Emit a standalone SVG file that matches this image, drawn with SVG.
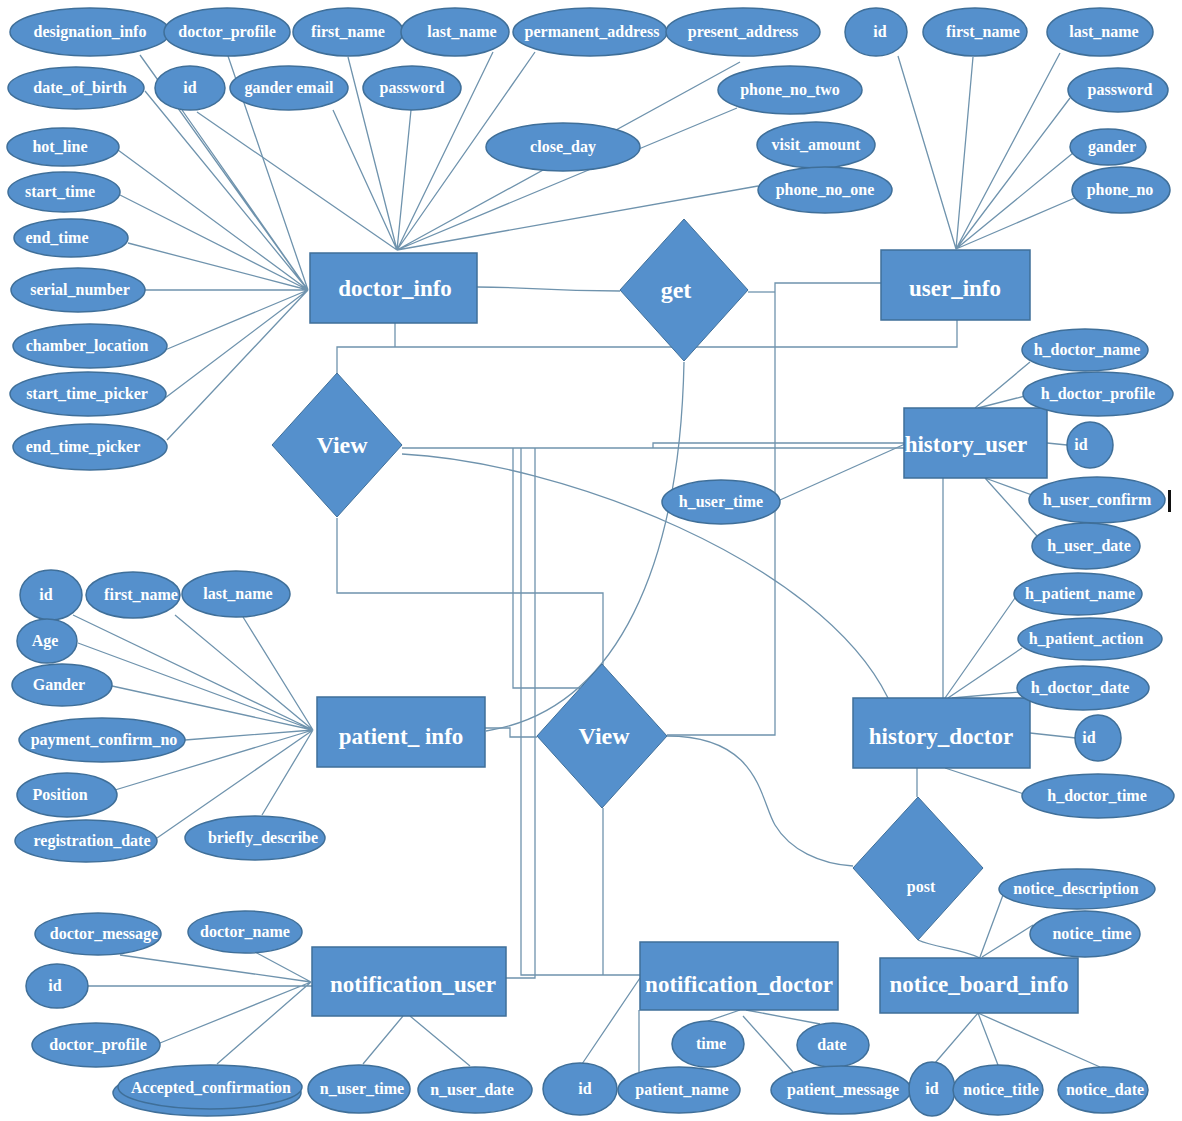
<svg xmlns="http://www.w3.org/2000/svg" width="1182" height="1121" viewBox="0 0 1182 1121">
<style>
  .ln { fill: none; stroke: #6f93ad; stroke-width: 1.3; }
  .ent { fill: #5590cc; stroke: #3f6f99; stroke-width: 1.5; }
  .at { fill: #5590cc; stroke: #3f6f99; stroke-width: 1.5; }
  .rel { fill: #5590cc; stroke: #3f6f99; stroke-width: 1; }
  text { font-family: "Liberation Serif", "Times New Roman", serif; fill: #ffffff; text-anchor: middle; font-weight: bold; }
  .ta { font-size: 16px; }
  .te { font-size: 23px; }
  .tr { font-size: 24px; }
</style>
<rect width="1182" height="1121" fill="#ffffff"/>

<!-- connectors -->
<g id="connectors">
  <!-- doctor_info attributes (left side hub and top hub) -->
  <path class="ln" d="M140,55 L308,290 M145,91 L308,290 M182,110 L308,290 M228,56 L308,290 M118,150 L308,290 M120,195 L308,290 M128,243 L308,290 M145,290 L308,290 M165,350 L308,290 M165,398 L308,290 M167,440 L308,290"/>
  <path class="ln" d="M197,112 L397,250 M333,110 L397,250 M348,57 L397,250 M411,110 L397,250 M493,52 L397,250 M535,52 L397,250 M740,62 L397,250 M737,108 L397,250 M758,186 L397,250"/>
  <!-- user_info attributes -->
  <path class="ln" d="M898,56 L956,249 M973,57 L956,249 M1060,53 L956,249 M1070,98 L956,249 M1073,153 L956,249 M1077,197 L956,249"/>
  <!-- relationships -->
  <path class="ln" d="M477,287 C530,287 540,291 620,291"/>
  <path class="ln" d="M748,292 H775"/>
  <path class="ln" d="M667,735 H775 V283 H881"/>
  <path class="ln" d="M395,323 V347"/>
  <path class="ln" d="M957,320 V347 H337 V375"/>
  <path class="ln" d="M337,518 V593 H603 V665"/>
  <path class="ln" d="M402,448 H905"/>
  <path class="ln" d="M653,448 V443 H905"/>
  <path class="ln" d="M513,448 V688 H580"/>
  <path class="ln" d="M521,448 V975 H640"/>
  <path class="ln" d="M535,448 V978 H506"/>
  <path class="ln" d="M603,808 V975"/>
  <path class="ln" d="M402,454 C560,462 820,560 888,698"/>
  <path class="ln" d="M684,362 C680,560 620,710 486,731"/>
  <path class="ln" d="M485,728 H510 V737 H537"/>
  <path class="ln" d="M667,736 C760,736 760,800 775,825 C790,850 820,864 853,866"/>
  <path class="ln" d="M943,478 V698"/>
  <path class="ln" d="M780,500 L905,444"/>
  <path class="ln" d="M917,768 V797"/>
  <path class="ln" d="M918,940 C935,948 960,948 980,958"/>
  <!-- history_user attributes -->
  <path class="ln" d="M1030,362 L975,408 M1025,396 L978,408 M1047,443 L1067,445 M1032,495 L985,478 M1037,536 L985,478"/>
  <!-- history_doctor attributes -->
  <path class="ln" d="M1015,598 L945,698 M1022,648 L948,698 M1020,692 L952,698 M1030,733 L1076,738 M1024,794 L945,768"/>
  <!-- patient_info attributes -->
  <path class="ln" d="M73,615 L313,730 M175,615 L313,730 M243,617 L313,730 M78,643 L313,730 M112,686 L313,730 M185,740 L313,730 M115,790 L313,730 M157,838 L313,730 M262,815 L313,730"/>
  <!-- notification_user attributes -->
  <path class="ln" d="M120,955 L311,982 M255,952 L311,982 M88,986 L312,986 M160,1043 L311,982 M217,1064 L311,982 M363,1064 L403,1016 M470,1066 L410,1016"/>
  <!-- notification_doctor attributes -->
  <path class="ln" d="M582,1064 L640,978 M639,1010 V1072 M708,1021 L740,1010 M820,1024 L746,1010 M793,1072 L743,1016"/>
  <!-- notice_board_info attributes -->
  <path class="ln" d="M1003,895 L980,957 M1033,925 L982,957 M978,1013 L935,1063 M978,1013 L998,1065 M978,1013 L1100,1067"/>
</g>

<!-- doctor_info -->
<g id="doctor_info">
  <rect class="ent" x="310" y="253" width="167" height="70"/>
  <text class="te" x="395" y="296">doctor_info</text>
</g>
<g id="doctor_attributes">
  <g id="d_designation_info"><ellipse class="at" cx="90" cy="32" rx="80" ry="24"/><text class="ta" x="90" y="37">designation_info</text></g>
  <g id="d_doctor_profile"><ellipse class="at" cx="227" cy="32" rx="63" ry="24"/><text class="ta" x="227" y="37">doctor_profile</text></g>
  <g id="d_first_name"><ellipse class="at" cx="348" cy="32" rx="55" ry="24"/><text class="ta" x="348" y="37">first_name</text></g>
  <g id="d_last_name"><ellipse class="at" cx="455" cy="32" rx="54" ry="24"/><text class="ta" x="462" y="37">last_name</text></g>
  <g id="d_permanent_address"><ellipse class="at" cx="590" cy="32" rx="77" ry="24"/><text class="ta" x="592" y="37">permanent_address</text></g>
  <g id="d_present_address"><ellipse class="at" cx="743" cy="32" rx="77" ry="24"/><text class="ta" x="743" y="37">present_address</text></g>
  <g id="d_date_of_birth"><ellipse class="at" cx="76" cy="88" rx="68" ry="21"/><text class="ta" x="80" y="93">date_of_birth</text></g>
  <g id="d_id"><ellipse class="at" cx="190" cy="88" rx="35" ry="22"/><text class="ta" x="190" y="93">id</text></g>
  <g id="d_gander_email"><ellipse class="at" cx="289" cy="88" rx="59" ry="22"/><text class="ta" x="289" y="93">gander email</text></g>
  <g id="d_password"><ellipse class="at" cx="412" cy="88" rx="49" ry="22"/><text class="ta" x="412" y="93">password</text></g>
  <g id="d_phone_no_two"><ellipse class="at" cx="790" cy="90" rx="72" ry="24"/><text class="ta" x="790" y="95">phone_no_two</text></g>
  <g id="d_close_day"><ellipse class="at" cx="563" cy="147" rx="77" ry="24"/><text class="ta" x="563" y="152">close_day</text></g>
  <g id="d_visit_amount"><ellipse class="at" cx="816" cy="145" rx="59" ry="23"/><text class="ta" x="816" y="150">visit_amount</text></g>
  <g id="d_phone_no_one"><ellipse class="at" cx="825" cy="190" rx="67" ry="23"/><text class="ta" x="825" y="195">phone_no_one</text></g>
  <g id="d_hot_line"><ellipse class="at" cx="63" cy="147" rx="56" ry="19"/><text class="ta" x="60" y="152">hot_line</text></g>
  <g id="d_start_time"><ellipse class="at" cx="64" cy="192" rx="56" ry="20"/><text class="ta" x="60" y="197">start_time</text></g>
  <g id="d_end_time"><ellipse class="at" cx="71" cy="238" rx="57" ry="19"/><text class="ta" x="57" y="243">end_time</text></g>
  <g id="d_serial_number"><ellipse class="at" cx="78" cy="290" rx="67" ry="22"/><text class="ta" x="80" y="295">serial_number</text></g>
  <g id="d_chamber_location"><ellipse class="at" cx="90" cy="346" rx="77" ry="22"/><text class="ta" x="87" y="351">chamber_location</text></g>
  <g id="d_start_time_picker"><ellipse class="at" cx="88" cy="394" rx="78" ry="22"/><text class="ta" x="87" y="399">start_time_picker</text></g>
  <g id="d_end_time_picker"><ellipse class="at" cx="90" cy="447" rx="77" ry="23"/><text class="ta" x="83" y="452">end_time_picker</text></g>
</g>

<!-- user_info -->
<g id="user_info">
  <rect class="ent" x="881" y="250" width="149" height="70"/>
  <text class="te" x="955" y="296">user_info</text>
</g>
<g id="user_attributes">
  <g id="u_id"><ellipse class="at" cx="876" cy="32" rx="31" ry="24"/><text class="ta" x="880" y="37">id</text></g>
  <g id="u_first_name"><ellipse class="at" cx="975" cy="32" rx="52" ry="24"/><text class="ta" x="983" y="37">first_name</text></g>
  <g id="u_last_name"><ellipse class="at" cx="1100" cy="32" rx="53" ry="24"/><text class="ta" x="1104" y="37">last_name</text></g>
  <g id="u_password"><ellipse class="at" cx="1118" cy="90" rx="50" ry="22"/><text class="ta" x="1120" y="95">password</text></g>
  <g id="u_gander"><ellipse class="at" cx="1108" cy="147" rx="38" ry="18"/><text class="ta" x="1112" y="152">gander</text></g>
  <g id="u_phone_no"><ellipse class="at" cx="1121" cy="190" rx="49" ry="23"/><text class="ta" x="1120" y="195">phone_no</text></g>
</g>

<!-- relationships -->
<g id="rel_get">
  <polygon class="rel" points="684,219 748,290 684,361 620,290"/>
  <text class="tr" x="676" y="298">get</text>
</g>
<g id="rel_view_doctor">
  <polygon class="rel" points="337,373 402,445 337,517 272,445"/>
  <text class="tr" x="342" y="453">View</text>
</g>
<g id="rel_view_patient">
  <polygon class="rel" points="602,664 667,736 602,808 537,736"/>
  <text class="tr" x="604" y="744">View</text>
</g>
<g id="rel_post">
  <polygon class="rel" points="918,797 983,868 918,940 853,868"/>
  <text class="ta" x="921" y="892">post</text>
</g>

<!-- history_user -->
<g id="history_user">
  <rect class="ent" x="904" y="408" width="143" height="70"/>
  <text class="te" x="966" y="452">history_user</text>
</g>
<g id="history_user_attributes">
  <g id="hu_h_doctor_name"><ellipse class="at" cx="1085" cy="350" rx="63" ry="21"/><text class="ta" x="1087" y="355">h_doctor_name</text></g>
  <g id="hu_h_doctor_profile"><ellipse class="at" cx="1098" cy="394" rx="75" ry="22"/><text class="ta" x="1098" y="399">h_doctor_profile</text></g>
  <g id="hu_id"><ellipse class="at" cx="1090" cy="445" rx="23" ry="23"/><text class="ta" x="1081" y="450">id</text></g>
  <g id="hu_h_user_confirm"><ellipse class="at" cx="1097" cy="500" rx="68" ry="23"/><text class="ta" x="1097" y="505">h_user_confirm</text></g>
  <g id="hu_h_user_date"><ellipse class="at" cx="1086" cy="546" rx="54" ry="23"/><text class="ta" x="1089" y="551">h_user_date</text></g>
  <g id="hu_h_user_time"><ellipse class="at" cx="721" cy="502" rx="59" ry="22"/><text class="ta" x="721" y="507">h_user_time</text></g>
</g>
<rect x="1168" y="490" width="3" height="22" fill="#111111"/>

<!-- history_doctor -->
<g id="history_doctor">
  <rect class="ent" x="853" y="698" width="177" height="70"/>
  <text class="te" x="941" y="744">history_doctor</text>
</g>
<g id="history_doctor_attributes">
  <g id="hd_h_patient_name"><ellipse class="at" cx="1078" cy="594" rx="64" ry="21"/><text class="ta" x="1080" y="599">h_patient_name</text></g>
  <g id="hd_h_patient_action"><ellipse class="at" cx="1090" cy="639" rx="72" ry="21"/><text class="ta" x="1086" y="644">h_patient_action</text></g>
  <g id="hd_h_doctor_date"><ellipse class="at" cx="1083" cy="688" rx="66" ry="22"/><text class="ta" x="1080" y="693">h_doctor_date</text></g>
  <g id="hd_id"><ellipse class="at" cx="1098" cy="738" rx="23" ry="23"/><text class="ta" x="1089" y="743">id</text></g>
  <g id="hd_h_doctor_time"><ellipse class="at" cx="1098" cy="796" rx="76" ry="22"/><text class="ta" x="1097" y="801">h_doctor_time</text></g>
</g>

<!-- patient_info -->
<g id="patient_info">
  <rect class="ent" x="317" y="697" width="168" height="70"/>
  <text class="te" x="401" y="744">patient_ info</text>
</g>
<g id="patient_attributes">
  <g id="p_id"><ellipse class="at" cx="51" cy="595" rx="31" ry="25"/><text class="ta" x="46" y="600">id</text></g>
  <g id="p_first_name"><ellipse class="at" cx="133" cy="595" rx="47" ry="23"/><text class="ta" x="141" y="600">first_name</text></g>
  <g id="p_last_name"><ellipse class="at" cx="236" cy="594" rx="54" ry="23"/><text class="ta" x="238" y="599">last_name</text></g>
  <g id="p_age"><ellipse class="at" cx="47" cy="641" rx="30" ry="22"/><text class="ta" x="45" y="646">Age</text></g>
  <g id="p_gander"><ellipse class="at" cx="62" cy="685" rx="50" ry="21"/><text class="ta" x="59" y="690">Gander</text></g>
  <g id="p_payment_confirm_no"><ellipse class="at" cx="102" cy="740" rx="83" ry="22"/><text class="ta" x="104" y="745">payment_confirm_no</text></g>
  <g id="p_position"><ellipse class="at" cx="67" cy="795" rx="50" ry="22"/><text class="ta" x="60" y="800">Position</text></g>
  <g id="p_registration_date"><ellipse class="at" cx="86" cy="841" rx="71" ry="21"/><text class="ta" x="92" y="846">registration_date</text></g>
  <g id="p_briefly_describe"><ellipse class="at" cx="255" cy="838" rx="70" ry="22"/><text class="ta" x="263" y="843">briefly_describe</text></g>
</g>

<!-- notification_user -->
<g id="notification_user">
  <rect class="ent" x="312" y="947" width="194" height="69"/>
  <text class="te" x="413" y="992">notification_user</text>
</g>
<g id="notification_user_attributes">
  <g id="nu_doctor_message"><ellipse class="at" cx="98" cy="934" rx="63" ry="21"/><text class="ta" x="104" y="939">doctor_message</text></g>
  <g id="nu_doctor_name"><ellipse class="at" cx="245" cy="932" rx="57" ry="21"/><text class="ta" x="245" y="937">doctor_name</text></g>
  <g id="nu_id"><ellipse class="at" cx="57" cy="986" rx="31" ry="22"/><text class="ta" x="55" y="991">id</text></g>
  <g id="nu_doctor_profile"><ellipse class="at" cx="96" cy="1045" rx="64" ry="22"/><text class="ta" x="98" y="1050">doctor_profile</text></g>
  <g id="nu_accepted_confirmation">
    <ellipse class="at" cx="207" cy="1093" rx="94" ry="23"/>
    <ellipse class="at" cx="210" cy="1087" rx="92" ry="22"/>
    <text class="ta" x="211" y="1093">Accepted_confirmation</text>
  </g>
  <g id="nu_n_user_time"><ellipse class="at" cx="359" cy="1089" rx="51" ry="24"/><text class="ta" x="362" y="1094">n_user_time</text></g>
  <g id="nu_n_user_date"><ellipse class="at" cx="475" cy="1090" rx="57" ry="23"/><text class="ta" x="472" y="1095">n_user_date</text></g>
</g>

<!-- notification_doctor -->
<g id="notification_doctor">
  <rect class="ent" x="640" y="942" width="198" height="68"/>
  <text class="te" x="739" y="992">notification_doctor</text>
</g>
<g id="notification_doctor_attributes">
  <g id="nd_time"><ellipse class="at" cx="708" cy="1044" rx="36" ry="23"/><text class="ta" x="711" y="1049">time</text></g>
  <g id="nd_date"><ellipse class="at" cx="833" cy="1045" rx="36" ry="22"/><text class="ta" x="832" y="1050">date</text></g>
  <g id="nd_id"><ellipse class="at" cx="580" cy="1089" rx="37" ry="26"/><text class="ta" x="585" y="1094">id</text></g>
  <g id="nd_patient_name"><ellipse class="at" cx="679" cy="1090" rx="61" ry="23"/><text class="ta" x="682" y="1095">patient_name</text></g>
  <g id="nd_patient_message"><ellipse class="at" cx="841" cy="1090" rx="70" ry="24"/><text class="ta" x="843" y="1095">patient_message</text></g>
</g>

<!-- notice_board_info -->
<g id="notice_board_info">
  <rect class="ent" x="880" y="958" width="198" height="55"/>
  <text class="te" x="979" y="992">notice_board_info</text>
</g>
<g id="notice_board_attributes">
  <g id="nb_notice_description"><ellipse class="at" cx="1077" cy="889" rx="78" ry="20"/><text class="ta" x="1076" y="894">notice_description</text></g>
  <g id="nb_notice_time"><ellipse class="at" cx="1085" cy="934" rx="55" ry="23"/><text class="ta" x="1092" y="939">notice_time</text></g>
  <g id="nb_id"><ellipse class="at" cx="932" cy="1089" rx="23" ry="27"/><text class="ta" x="932" y="1094">id</text></g>
  <g id="nb_notice_title"><ellipse class="at" cx="998" cy="1090" rx="45" ry="25"/><text class="ta" x="1001" y="1095">notice_title</text></g>
  <g id="nb_notice_date"><ellipse class="at" cx="1103" cy="1090" rx="45" ry="23"/><text class="ta" x="1105" y="1095">notice_date</text></g>
</g>
</svg>
